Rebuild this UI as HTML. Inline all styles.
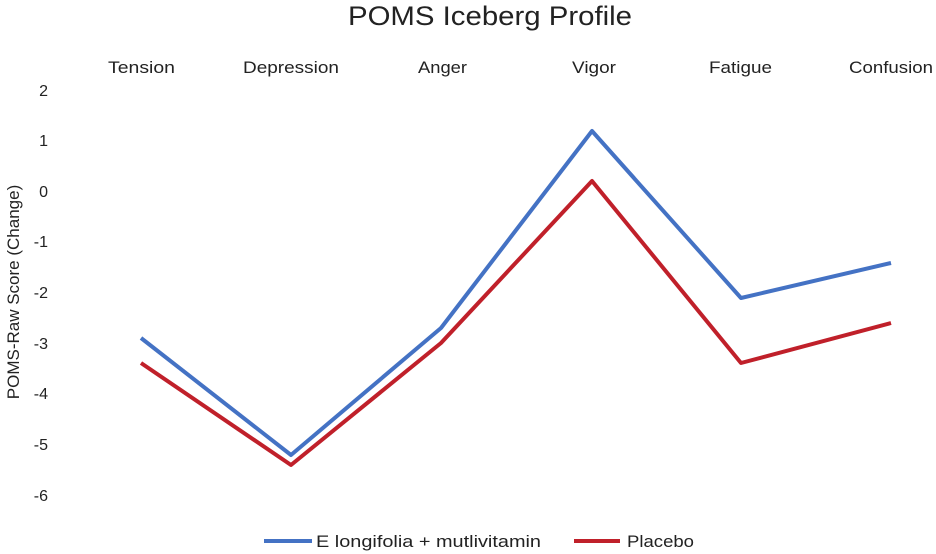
<!DOCTYPE html>
<html><head><meta charset="utf-8"><style>
html,body{margin:0;padding:0;background:#fff;}
svg{display:block;font-family:"Liberation Sans",sans-serif;}
</style></head><body>
<svg width="936" height="554" viewBox="0 0 936 554" xmlns="http://www.w3.org/2000/svg">
<text x="348" y="25" font-size="27" fill="#222" textLength="284" lengthAdjust="spacingAndGlyphs">POMS Iceberg Profile</text>
<g font-size="17" fill="#222">
<text x="108" y="73" textLength="67" lengthAdjust="spacingAndGlyphs">Tension</text>
<text x="243" y="73" textLength="96" lengthAdjust="spacingAndGlyphs">Depression</text>
<text x="418" y="73" textLength="49" lengthAdjust="spacingAndGlyphs">Anger</text>
<text x="572" y="73" textLength="44" lengthAdjust="spacingAndGlyphs">Vigor</text>
<text x="709" y="73" textLength="63" lengthAdjust="spacingAndGlyphs">Fatigue</text>
<text x="849" y="73" textLength="84" lengthAdjust="spacingAndGlyphs">Confusion</text>
</g>
<g font-size="16" fill="#222" text-anchor="end">
<text x="48" y="96">2</text>
<text x="48" y="146">1</text>
<text x="48" y="197">0</text>
<text x="48" y="247">-1</text>
<text x="48" y="298">-2</text>
<text x="48" y="349">-3</text>
<text x="48" y="399">-4</text>
<text x="48" y="450">-5</text>
<text x="48" y="501">-6</text>
</g>
<text transform="translate(19,292) rotate(-90)" font-size="17" fill="#222" text-anchor="middle">POMS-Raw Score (Change)</text>
<polyline fill="none" stroke="#4472C4" stroke-width="4" stroke-linejoin="round" points="141,338 291,455 441,328 592,131 741,298 891,263"/>
<polyline fill="none" stroke="#C0202A" stroke-width="4" stroke-linejoin="round" points="141,363 291,465 441,343 592,181 741,363 891,323"/>
<line x1="264" y1="541" x2="312" y2="541" stroke="#4472C4" stroke-width="4"/>
<text x="316" y="547" font-size="17" fill="#222" textLength="225" lengthAdjust="spacingAndGlyphs">E longifolia + mutlivitamin</text>
<line x1="574" y1="541" x2="620" y2="541" stroke="#C0202A" stroke-width="4"/>
<text x="627" y="547" font-size="17" fill="#222" textLength="67" lengthAdjust="spacingAndGlyphs">Placebo</text>
</svg>
</body></html>
